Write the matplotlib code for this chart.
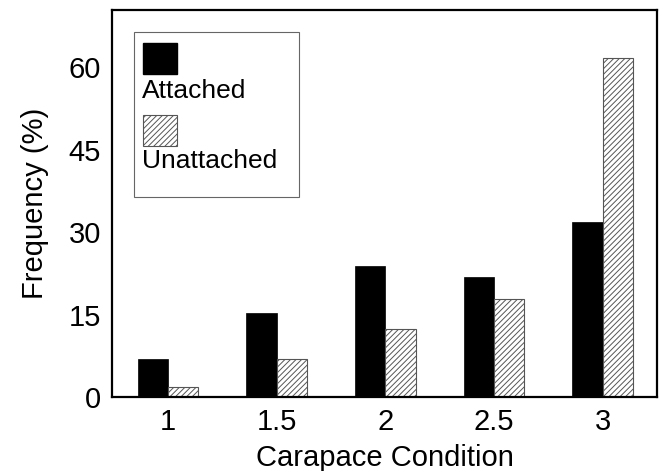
import matplotlib
matplotlib.use('Agg')
import matplotlib.pyplot as plt
from matplotlib.patches import Rectangle
import numpy as np

plt.rcParams['font.family'] = ['Liberation Sans', 'DejaVu Sans']
plt.rcParams['hatch.linewidth'] = 0.7

conditions = ['1', '1.5', '2', '2.5', '3']
attached = [7.0, 15.3, 23.9, 21.9, 31.8]
unattached = [1.8, 6.9, 12.3, 17.8, 61.6]

x = np.arange(len(conditions))
w = 0.28

fig = plt.figure(figsize=(6.61, 4.71), dpi=100)
ax = fig.add_axes([0.1694, 0.1571, 0.8246, 0.8217])

ax.bar(x - w / 2, attached, w, color='black', edgecolor='black', linewidth=0.5)
ax.bar(x + w / 2, unattached, w, color='white', edgecolor='#555555',
       hatch='//////', linewidth=0.8)

ax.set_xlim(-0.515, 4.5)
ax.set_ylim(0, 70.4)
ax.set_xticks(x)
ax.set_xticklabels(conditions)
ax.set_yticks([0, 15, 30, 45, 60])
ax.tick_params(length=0, labelsize=21, pad=8)
for s in ax.spines.values():
    s.set_linewidth(1.6)

ax.set_xlabel('Carapace Condition', fontsize=21, labelpad=6)
ax.set_ylabel('Frequency (%)', fontsize=21, labelpad=14)

# legend drawn by hand: handle above text
ax.add_patch(Rectangle((0.040, 0.517), 0.303, 0.426, transform=ax.transAxes,
                       facecolor='white', edgecolor='#666666', linewidth=0.8))
ax.add_patch(Rectangle((0.057, 0.835), 0.062, 0.080, transform=ax.transAxes,
                       facecolor='black', edgecolor='black'))
ax.add_patch(Rectangle((0.057, 0.649), 0.062, 0.080, transform=ax.transAxes,
                       facecolor='white', edgecolor='#555555', hatch='//////',
                       linewidth=0.8))
ax.text(0.055, 0.791, 'Attached', transform=ax.transAxes, fontsize=19,
        va='center', ha='left')
ax.text(0.055, 0.610, 'Unattached', transform=ax.transAxes, fontsize=19,
        va='center', ha='left')

plt.savefig('out.png', dpi=100)
